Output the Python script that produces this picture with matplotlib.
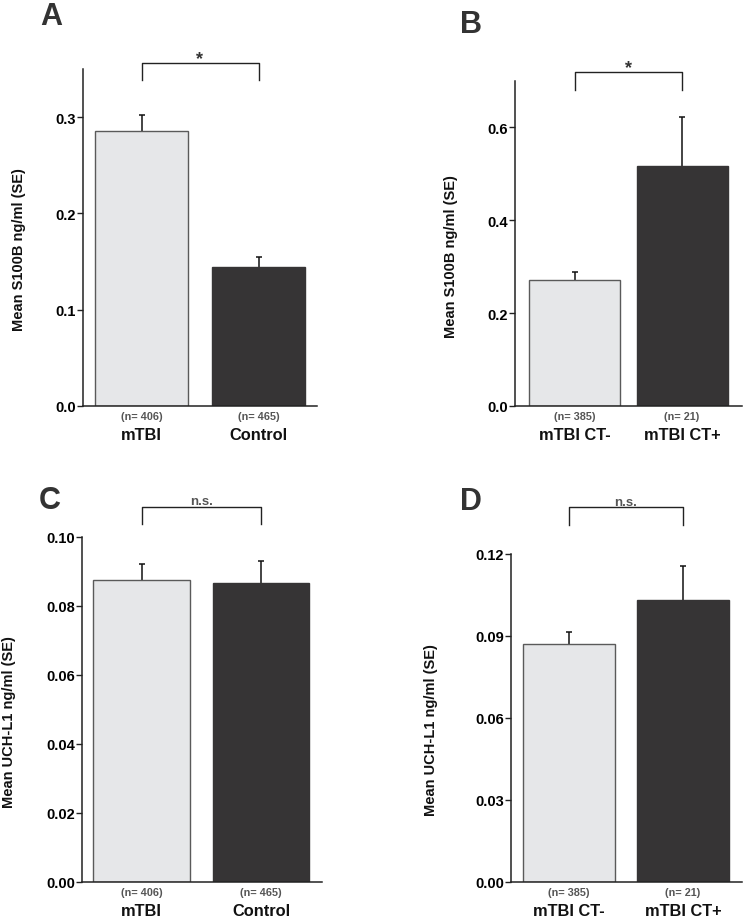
import matplotlib
matplotlib.use("Agg")
import matplotlib.pyplot as plt
import matplotlib.transforms as mtransforms

plt.rcParams['font.family'] = ['Liberation Sans', 'DejaVu Sans']
plt.rcParams['font.weight'] = 'bold'

# ---- data ----
groups_ab = ["mTBI", "Control"]
groups_ct = ["mTBI CT-", "mTBI CT+"]
n_ab = ["(n= 406)", "(n= 465)"]
n_ct = ["(n= 385)", "(n= 21)"]

s100b_mtbi_control = [0.286, 0.144]
s100b_mtbi_control_se = [0.016, 0.011]
s100b_ct = [0.272, 0.516]
s100b_ct_se = [0.016, 0.107]
uchl1_mtbi_control = [0.0875, 0.0868]
uchl1_mtbi_control_se = [0.0046, 0.0061]
uchl1_ct = [0.087, 0.103]
uchl1_ct_se = [0.0045, 0.0125]

yticks_a = [0.0, 0.1, 0.2, 0.3]
yticks_b = [0.0, 0.2, 0.4, 0.6]
yticks_c = [0.00, 0.02, 0.04, 0.06, 0.08, 0.10]
yticks_d = [0.00, 0.03, 0.06, 0.09, 0.12]

panels = [
    dict(letter="A", cats=groups_ab, ns=n_ab, vals=s100b_mtbi_control, se=s100b_mtbi_control_se,
         ylabel="Mean S100B ng/ml (SE)", yticks=yticks_a, fmt="{:.1f}", ylim=0.35, sig="*"),
    dict(letter="B", cats=groups_ct, ns=n_ct, vals=s100b_ct, se=s100b_ct_se,
         ylabel="Mean S100B ng/ml (SE)", yticks=yticks_b, fmt="{:.1f}", ylim=0.70, sig="*"),
    dict(letter="C", cats=groups_ab, ns=n_ab, vals=uchl1_mtbi_control, se=uchl1_mtbi_control_se,
         ylabel="Mean UCH-L1 ng/ml (SE)", yticks=yticks_c, fmt="{:.2f}", ylim=0.10, sig="n.s."),
    dict(letter="D", cats=groups_ct, ns=n_ct, vals=uchl1_ct, se=uchl1_ct_se,
         ylabel="Mean UCH-L1 ng/ml (SE)", yticks=yticks_d, fmt="{:.2f}", ylim=0.12, sig="n.s."),
]

W, H = 744, 920
fig = plt.figure(figsize=(W / 100, H / 100), dpi=100)

def fx(px):
    return px / W

def fy(py):
    return 1 - py / H

# layout (pixel boxes: left, right, top, bottom)
boxes = [(83, 317, 70, 407), (515, 742, 82, 407), (82, 322, 538, 883), (511, 742, 555, 883)]
xlims = [(-0.50, 1.50), (-0.56, 1.56), (-0.50, 1.51), (-0.51, 1.52)]
widths = [0.80, 0.85, 0.81, 0.81]
# bracket (top, drop) in axes fraction, text y in axes fraction
brackets = [(1.018, 0.967, 1.032), (1.027, 0.973, 1.040), (1.087, 1.037, 1.105), (1.142, 1.089, 1.160)]
letters_pos = [(40, 17), (460, 25), (39, 501), (460, 502)]
ylabel_pos = [(19, 250), (451, 257), (9, 722), (431, 730)]

light = "#e6e7e9"
dark = "#363435"
edge_light = "#5a5a5a"
axis_col = "#222222"

for p, box, xl, w, br, lp, yp in zip(panels, boxes, xlims, widths, brackets, letters_pos, ylabel_pos):
    l, r, t, b = box
    ax = fig.add_axes([fx(l), fy(b), fx(r) - fx(l), fy(t) - fy(b)])
    x = [0, 1]
    ax.bar(x[0], p["vals"][0], width=w, color=light, edgecolor=edge_light, linewidth=1.0, zorder=2)
    ax.bar(x[1], p["vals"][1], width=w, color=dark, edgecolor=dark, linewidth=1.0, zorder=2)
    # symmetric error bars drawn behind the bars, so only the upper half shows
    ax.errorbar(x, p["vals"], yerr=p["se"], fmt="none", ecolor="#111111",
                elinewidth=1.1, capsize=2.2, capthick=1.1, zorder=1)
    ax.set_xlim(*xl)
    ax.set_ylim(0, p["ylim"])
    ax.set_yticks(p["yticks"])
    ax.set_yticklabels([p["fmt"].format(v) for v in p["yticks"]], fontsize=10.5, fontweight="bold")
    ax.set_xticks([])
    ax.tick_params(axis="y", length=4.5, width=1.0, color=axis_col, pad=0.5)
    for s in ["top", "right"]:
        ax.spines[s].set_visible(False)
    for s in ["left", "bottom"]:
        ax.spines[s].set_color(axis_col)
        ax.spines[s].set_linewidth(1.1)
    # n labels and category labels
    for i in range(2):
        ax.annotate(p["ns"][i], xy=(x[i], 0), xycoords=("data", "axes fraction"),
                    xytext=(0, -10), textcoords="offset pixels", ha="center", va="center",
                    fontsize=7.8, fontweight="bold", color="#555555", annotation_clip=False)
        ax.annotate(p["cats"][i], xy=(x[i], 0), xycoords=("data", "axes fraction"),
                    xytext=(0, -29), textcoords="offset pixels", ha="center", va="center",
                    fontsize=11.8, fontweight="bold", color="#111111", annotation_clip=False)
    # significance bracket
    trans = mtransforms.blended_transform_factory(ax.transData, ax.transAxes)
    top, drop, ty = br
    ax.plot([x[0], x[0], x[1], x[1]], [drop, top, top, drop], color="#222222", lw=1.0,
            transform=trans, clip_on=False)
    if p["sig"] == "*":
        ax.text(0.5, ty, "*", transform=trans, ha="center", va="center", fontsize=13,
                fontweight="bold", color="#333333")
    else:
        ax.text(0.5, ty, "n.s.", transform=trans, ha="center", va="center", fontsize=9.5,
                fontweight="bold", color="#555555")
    fig.text(fx(lp[0]), fy(lp[1]), p["letter"], ha="left", va="center", fontsize=22,
             fontweight="bold", color="#333333")
    fig.text(fx(yp[0]), fy(yp[1]), p["ylabel"], rotation=90, ha="center", va="center",
             fontsize=10.5, fontweight="bold", color="#111111")

fig.savefig("out.png", dpi=100, facecolor="white")
